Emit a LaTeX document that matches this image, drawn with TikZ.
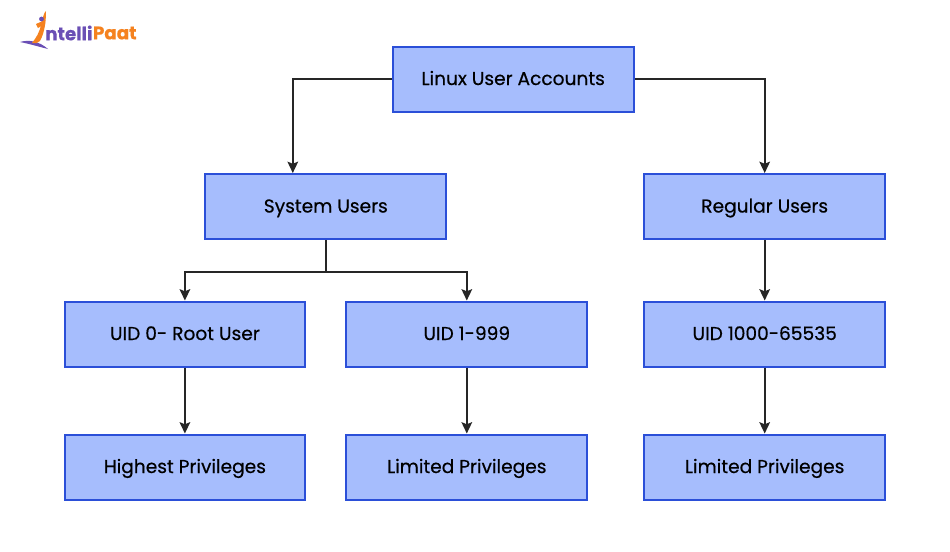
\documentclass[tikz,border=0pt]{standalone}
\usepackage{fontspec}
\setmainfont{Poppins}
\usetikzlibrary{arrows.meta,calc}
\definecolor{boxfill}{HTML}{A6BDFD}
\definecolor{boxline}{HTML}{2B4FD8}
\definecolor{logopurple}{HTML}{6A4FB5}
\definecolor{logoorange}{HTML}{F5821F}
\tikzset{
  px/.style={x=0.75pt,y=-0.75pt},
  acct/.style={draw=boxline,fill=boxfill,line width=1.5pt,minimum width=180.5pt,minimum height=48.75pt,inner sep=0pt,text=black,text height=10pt,text depth=1pt,font=\fontsize{13.95}{16}\selectfont\addfontfeatures{FakeBold=0.45},anchor=center},
  link/.style={draw=black!85,line width=1.25pt,-{Stealth[length=8.5pt,width=8pt,inset=1.6pt]}},
  trunk/.style={draw=black!85,line width=1.25pt}
}
\begin{document}
\begin{tikzpicture}[px]
\useasboundingbox (0,0) rectangle (950,551);
\fill[white] (0,0) rectangle (950,551);
% logo
\fill[logopurple] (20,42) .. controls (30,39) and (40,42) .. (48,49) .. controls (40,47) and (30,44) .. cycle;
\fill[logoorange] (32,43) .. controls (36,38) and (40,32) .. (41,24) .. controls (43,18) and (44,12) .. (46,11) .. controls (46,20) and (45,32) .. (40,41) .. controls (38,43) and (35,44) .. cycle;
\fill[logoorange] (36,24) -- (45,20) -- (45,24) -- (38,28) -- cycle;
\fill[logopurple] (41.5,19) circle (2.4);
\node[inner sep=0pt,anchor=west,text=logopurple,font=\fontsize{13.7}{15}\selectfont\bfseries\addfontfeatures{FakeBold=0.4}] (logoa) at (45,33) {ntelli};
\node[inner sep=0pt,anchor=west,text=logoorange,font=\fontsize{13.7}{15}\selectfont\bfseries\addfontfeatures{FakeBold=0.4}] (logob) at (logoa.east) {Paat};
% boxes
\node[acct] (root) at (513.2,79) {Linux User Accounts};
\node[acct] (sys) at (325.8,206.5) {System Users};
\node[acct] (reg) at (764.7,206.5) {Regular Users};
\node[acct] (uid0) at (184.9,334) {UID 0- Root User};
\node[acct] (uid1) at (466.8,334) {UID 1-999};
\node[acct] (uid2) at (764.7,334) {UID 1000-65535};
\node[acct] (hi) at (184.9,467) {Highest Privileges};
\node[acct] (lim1) at (466.8,467) {Limited Privileges};
\node[acct] (lim2) at (764.7,467) {Limited Privileges};
% connectors
\draw[link] (root.west) -| ($(sys.north)+(-33.0,0)$);
\draw[link] (root.east) -| (reg.north);
\coordinate (fork) at (325.8,271.7);
\draw[trunk] (sys.south) -- (fork);
\draw[link] (fork) -| (uid0.north);
\draw[link] (fork) -| (uid1.north);
\draw[link] (reg.south) -- (uid2.north);
\draw[link] (uid0.south) -- (hi.north);
\draw[link] (uid1.south) -- (lim1.north);
\draw[link] (uid2.south) -- (lim2.north);
\end{tikzpicture}
\end{document}
